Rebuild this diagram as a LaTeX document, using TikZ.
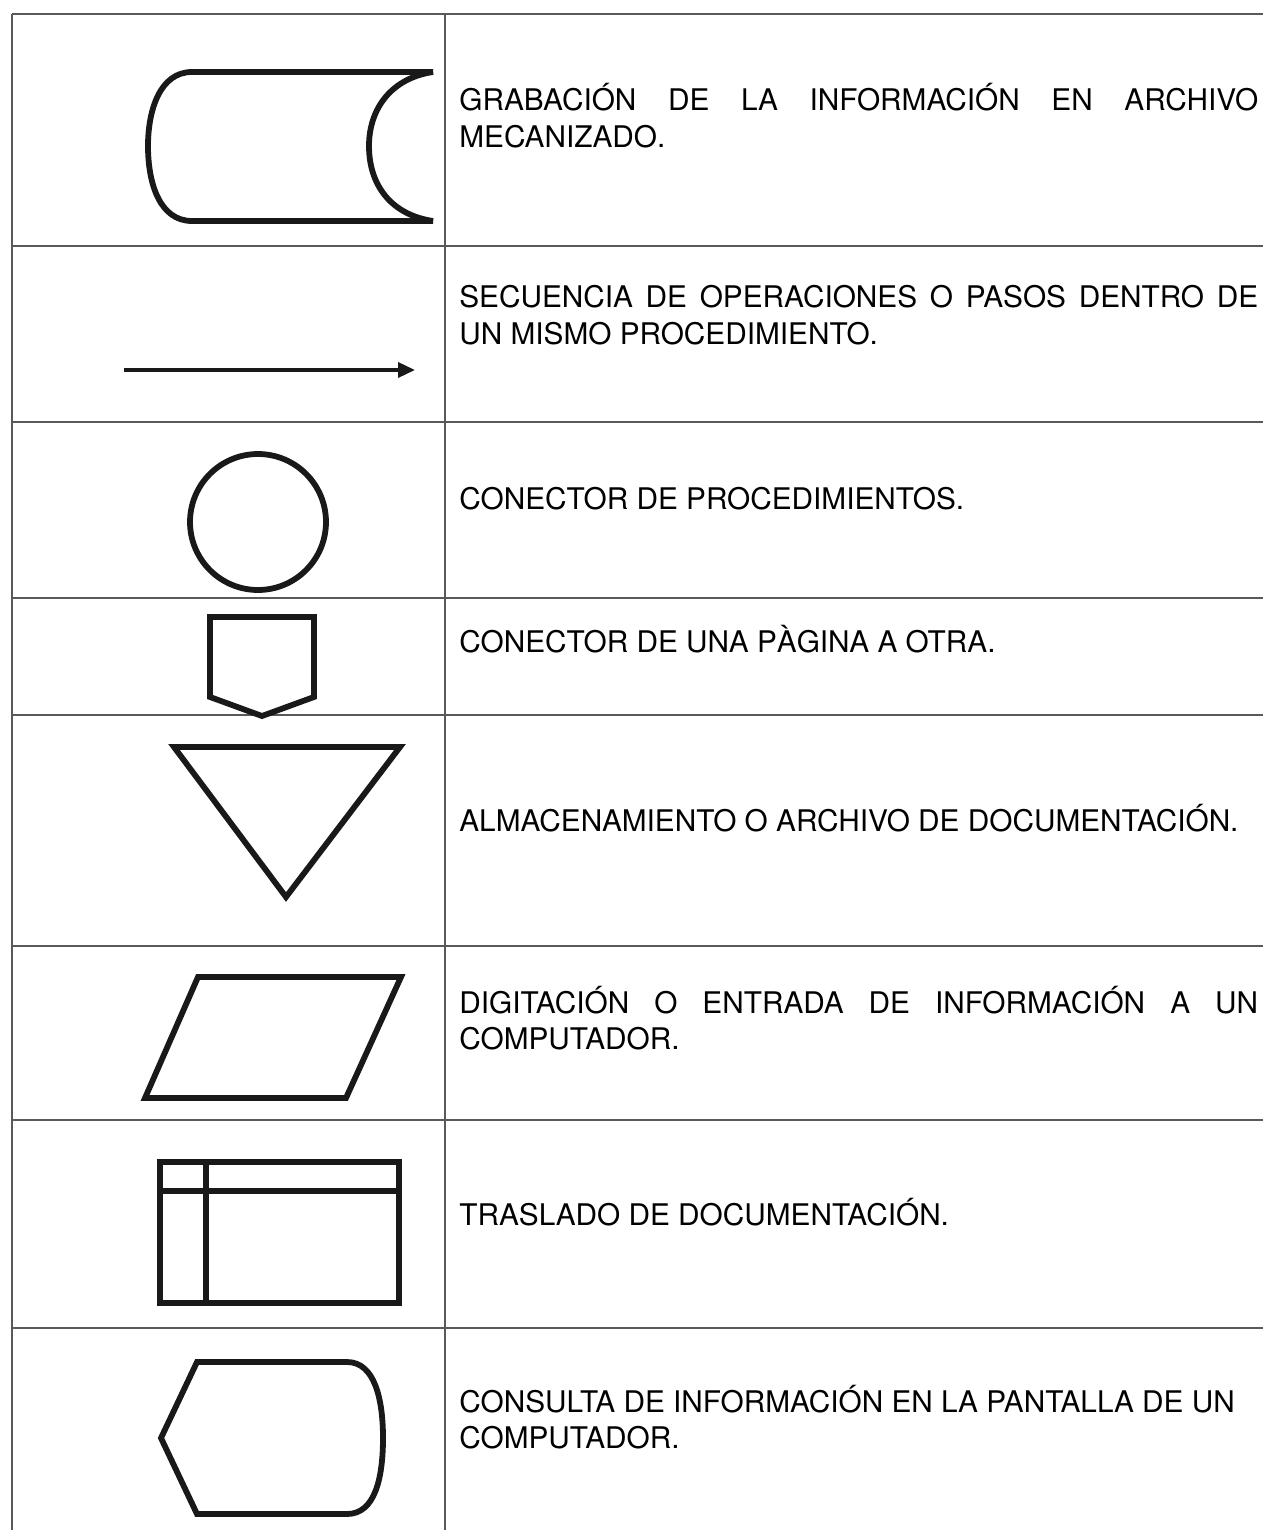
\documentclass[tikz,border=0pt]{standalone}
\usepackage{fontspec}
\setmainfont{TeX Gyre Heros}
\usetikzlibrary{arrows.meta}

\begin{document}
\begin{tikzpicture}[
  x=0.02cm, y=-0.02cm,
  rule/.style={line width=0.9pt, black!65},
  symb/.style={line width=3.3pt, black!90},
  desc/.style={anchor=base west, inner sep=0pt, text width=15.98cm,
    align=justify, font=\fontsize{16.95}{20.5}\selectfont},
]
  \useasboundingbox (0,0) rectangle (1263,1530);

  % Table rules
  \draw[rule] (12,14) -- (1263,14);
  \foreach \yy in {246,422,598,715,946,1120,1328} {
    \draw[rule] (12,\yy) -- (1263,\yy);
  }
  \draw[rule] (12,14) -- (12,1530);
  \draw[rule] (445,14) -- (445,1530);

  % Stored data symbol
  \draw[symb] (433,72) -- (192,72)
    .. controls (160,72) and (148,110) .. (148,146)
    .. controls (148,184) and (160,221) .. (192,221) -- (433,221);
  \draw[symb] (433,72) .. controls (392,78) and (369,108) .. (369,146)
    .. controls (369,186) and (392,215) .. (433,221);

  % Flow arrow
  \coordinate (a0) at (124,370);
  \coordinate (a1) at (415,370);
  \draw[line width=2pt, black!90, -{Triangle[length=0.34cm,width=0.3cm]}] (a0) -- (a1);

  % Connector
  \draw[symb] (258,522) circle[radius=1.36cm];

  % Off-page connector
  \draw[symb] (210,617) -- (314,617) -- (314,697) -- (262,716) -- (210,697) -- cycle;

  % Storage triangle
  \draw[symb] (174,747) -- (400,747) -- (286,897) -- cycle;

  % Input parallelogram
  \draw[symb] (198,977) -- (401,977) -- (346,1098) -- (145,1098) -- cycle;

  % Transfer box
  \draw[symb] (160,1162) rectangle (399,1303);
  \draw[symb] (206,1162) -- (206,1303);
  \draw[symb] (160,1191) -- (399,1191);

  % Display
  \draw[symb] (161,1438) -- (197,1362) -- (347,1362)
    .. controls (375,1362) and (383,1400) .. (383,1438)
    .. controls (383,1478) and (375,1514) .. (347,1514) -- (197,1514) -- cycle;

  % Descriptions
  \node[desc] (d1) at (459,111) {GRABACIÓN DE LA INFORMACIÓN EN ARCHIVO\linebreak MECANIZADO.};
  \node[desc] (d2) at (459,308) {SECUENCIA DE OPERACIONES O PASOS DENTRO DE\linebreak UN MISMO PROCEDIMIENTO.};
  \node[desc] (d3) at (459,509) {CONECTOR DE PROCEDIMIENTOS.};
  \node[desc] (d4) at (459,652) {CONECTOR DE UNA PÀGINA A OTRA.};
  \node[desc] (d5) at (459,831) {ALMACENAMIENTO O ARCHIVO DE DOCUMENTACIÓN.};
  \node[desc] (d6) at (459,1013) {DIGITACIÓN O ENTRADA DE INFORMACIÓN A UN\linebreak COMPUTADOR.};
  \node[desc] (d7) at (459,1225) {TRASLADO DE DOCUMENTACIÓN.};
  \node[desc] (d8) at (459,1412) {CONSULTA DE INFORMACIÓN EN LA PANTALLA DE UN\newline COMPUTADOR.};

\end{tikzpicture}
\end{document}
